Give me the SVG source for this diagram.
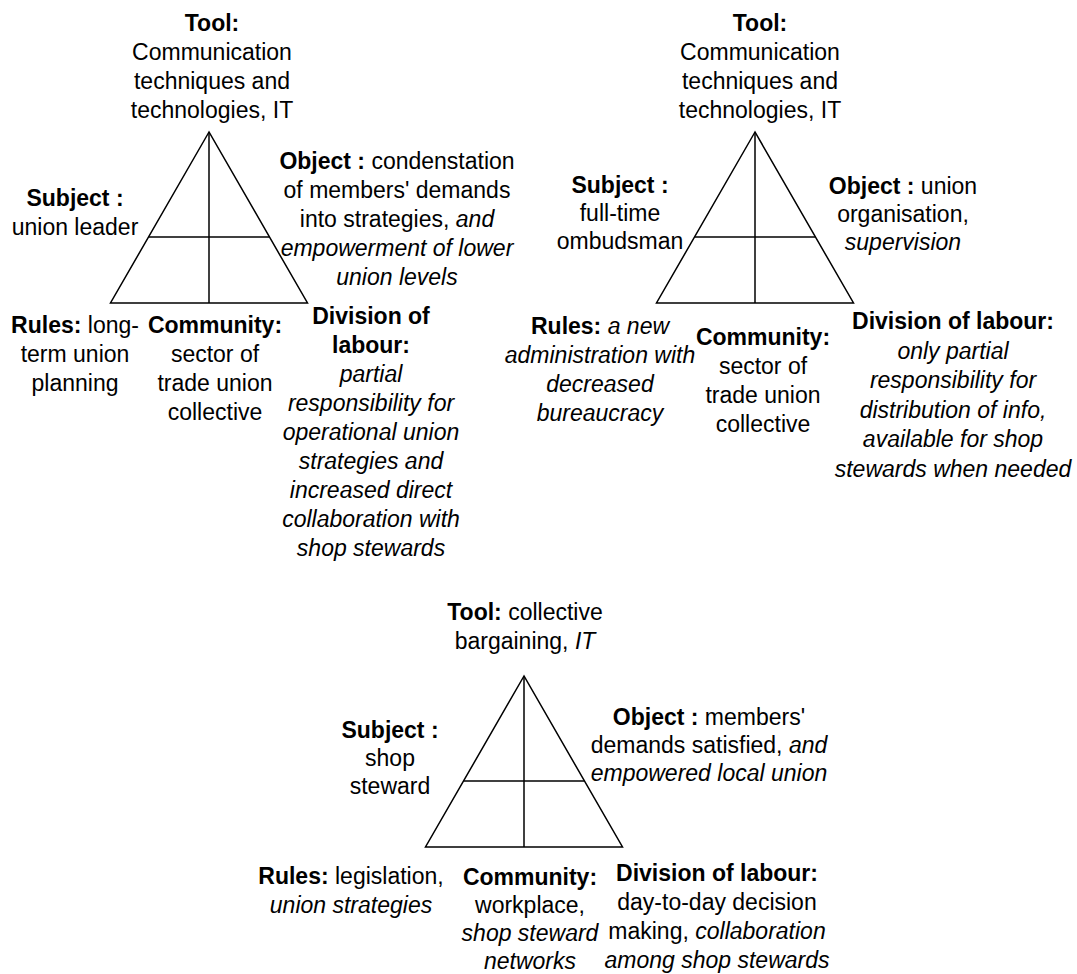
<svg xmlns="http://www.w3.org/2000/svg" xmlns:xlink="http://www.w3.org/1999/xlink" width="1077" height="974" viewBox="0 0 1077 974">
  <style>
    .tri { fill: none; stroke: #000; stroke-width: 1.5; stroke-linejoin: miter; }
    text { font-family: "Liberation Sans", Arial, Helvetica, sans-serif; font-size: 23px; fill: #000; text-anchor: middle; }
    .b { font-weight: bold; }
    .i { font-style: italic; }
  </style>
  <defs>
    <!-- activity triangle: apex at origin, split by a vertical and a horizontal line -->
    <g id="activity-triangle" class="tri">
      <polygon points="0,0 -98.5,171 98.5,171"/>
      <line x1="0" y1="0" x2="0" y2="171"/>
      <line x1="-60.3" y1="105" x2="60.3" y2="105"/>
    </g>
  </defs>
  <rect width="1077" height="974" fill="#fff"/>

  <!-- connectors: the triangle frames -->
  <g id="connectors">
    <use xlink:href="#activity-triangle" href="#activity-triangle" transform="translate(209,132)"/>
    <use xlink:href="#activity-triangle" href="#activity-triangle" transform="translate(755,132)"/>
    <use xlink:href="#activity-triangle" href="#activity-triangle" transform="translate(524,676)"/>
  </g>

  <!-- System 1: union leader -->
  <g id="leader">
    <g id="leader-tool">
      <text><tspan class="b" x="212" y="31">Tool:</tspan><tspan x="212" y="60">Communication</tspan><tspan x="212" y="89">techniques and</tspan><tspan x="212" y="118">technologies, IT</tspan></text>
    </g>
    <g id="leader-subject">
      <text><tspan class="b" x="75" y="206">Subject :</tspan><tspan x="75" y="235">union leader</tspan></text>
    </g>
    <g id="leader-object">
      <text><tspan x="397" y="169"><tspan class="b">Object :</tspan> condenstation</tspan><tspan x="397" y="198">of members' demands</tspan><tspan x="397" y="227">into strategies, <tspan class="i">and</tspan></tspan><tspan class="i" x="397" y="256">empowerment of lower</tspan><tspan class="i" x="397" y="285">union levels</tspan></text>
    </g>
    <g id="leader-rules">
      <text><tspan x="75" y="333"><tspan class="b">Rules:</tspan> long-</tspan><tspan x="75" y="362">term union</tspan><tspan x="75" y="391">planning</tspan></text>
    </g>
    <g id="leader-community">
      <text><tspan class="b" x="215" y="333">Community:</tspan><tspan x="215" y="362">sector of</tspan><tspan x="215" y="391">trade union</tspan><tspan x="215" y="420">collective</tspan></text>
    </g>
    <g id="leader-division">
      <text><tspan class="b" x="371" y="324">Division of</tspan><tspan class="b" x="371" y="353">labour:</tspan><tspan class="i" x="371" y="382">partial</tspan><tspan class="i" x="371" y="411">responsibility for</tspan><tspan class="i" x="371" y="440">operational union</tspan><tspan class="i" x="371" y="469">strategies and</tspan><tspan class="i" x="371" y="498">increased direct</tspan><tspan class="i" x="371" y="527">collaboration with</tspan><tspan class="i" x="371" y="556">shop stewards</tspan></text>
    </g>
  </g>

  <!-- System 2: full-time ombudsman -->
  <g id="ombudsman">
    <g id="ombudsman-tool">
      <text><tspan class="b" x="760" y="31">Tool:</tspan><tspan x="760" y="60">Communication</tspan><tspan x="760" y="89">techniques and</tspan><tspan x="760" y="118">technologies, IT</tspan></text>
    </g>
    <g id="ombudsman-subject">
      <text><tspan class="b" x="620" y="193">Subject :</tspan><tspan x="620" y="221">full-time</tspan><tspan x="620" y="249">ombudsman</tspan></text>
    </g>
    <g id="ombudsman-object">
      <text><tspan x="903" y="194"><tspan class="b">Object :</tspan> union</tspan><tspan x="903" y="222">organisation,</tspan><tspan class="i" x="903" y="250">supervision</tspan></text>
    </g>
    <g id="ombudsman-rules">
      <text><tspan x="600" y="334"><tspan class="b">Rules:</tspan> <tspan class="i">a new</tspan></tspan><tspan class="i" x="600" y="363">administration with</tspan><tspan class="i" x="600" y="392">decreased</tspan><tspan class="i" x="600" y="421">bureaucracy</tspan></text>
    </g>
    <g id="ombudsman-community">
      <text><tspan class="b" x="763" y="345">Community:</tspan><tspan x="763" y="374">sector of</tspan><tspan x="763" y="403">trade union</tspan><tspan x="763" y="432">collective</tspan></text>
    </g>
    <g id="ombudsman-division">
      <text><tspan class="b" x="953" y="329">Division of labour:</tspan><tspan class="i" x="953" y="358.5">only partial</tspan><tspan class="i" x="953" y="388">responsibility for</tspan><tspan class="i" x="953" y="417.5">distribution of info,</tspan><tspan class="i" x="953" y="447">available for shop</tspan><tspan class="i" x="953" y="476.5">stewards when needed</tspan></text>
    </g>
  </g>

  <!-- System 3: shop steward -->
  <g id="steward">
    <g id="steward-tool">
      <text><tspan x="525" y="620"><tspan class="b">Tool:</tspan> collective</tspan><tspan x="525" y="649">bargaining, <tspan class="i">IT</tspan></tspan></text>
    </g>
    <g id="steward-subject">
      <text><tspan class="b" x="390" y="738">Subject :</tspan><tspan x="390" y="766">shop</tspan><tspan x="390" y="794">steward</tspan></text>
    </g>
    <g id="steward-object">
      <text><tspan x="709" y="725"><tspan class="b">Object :</tspan> members'</tspan><tspan x="709" y="753">demands satisfied, <tspan class="i">and</tspan></tspan><tspan class="i" x="709" y="781">empowered local union</tspan></text>
    </g>
    <g id="steward-rules">
      <text><tspan x="351" y="884"><tspan class="b">Rules:</tspan> legislation,</tspan><tspan class="i" x="351" y="913">union strategies</tspan></text>
    </g>
    <g id="steward-community">
      <text><tspan class="b" x="530" y="885">Community:</tspan><tspan x="530" y="913">workplace,</tspan><tspan class="i" x="530" y="941">shop steward</tspan><tspan class="i" x="530" y="969">networks</tspan></text>
    </g>
    <g id="steward-division">
      <text><tspan class="b" x="717" y="881">Division of labour:</tspan><tspan x="717" y="910">day-to-day decision</tspan><tspan x="717" y="939">making, <tspan class="i">collaboration</tspan></tspan><tspan class="i" x="717" y="968">among shop stewards</tspan></text>
    </g>
  </g>
</svg>
